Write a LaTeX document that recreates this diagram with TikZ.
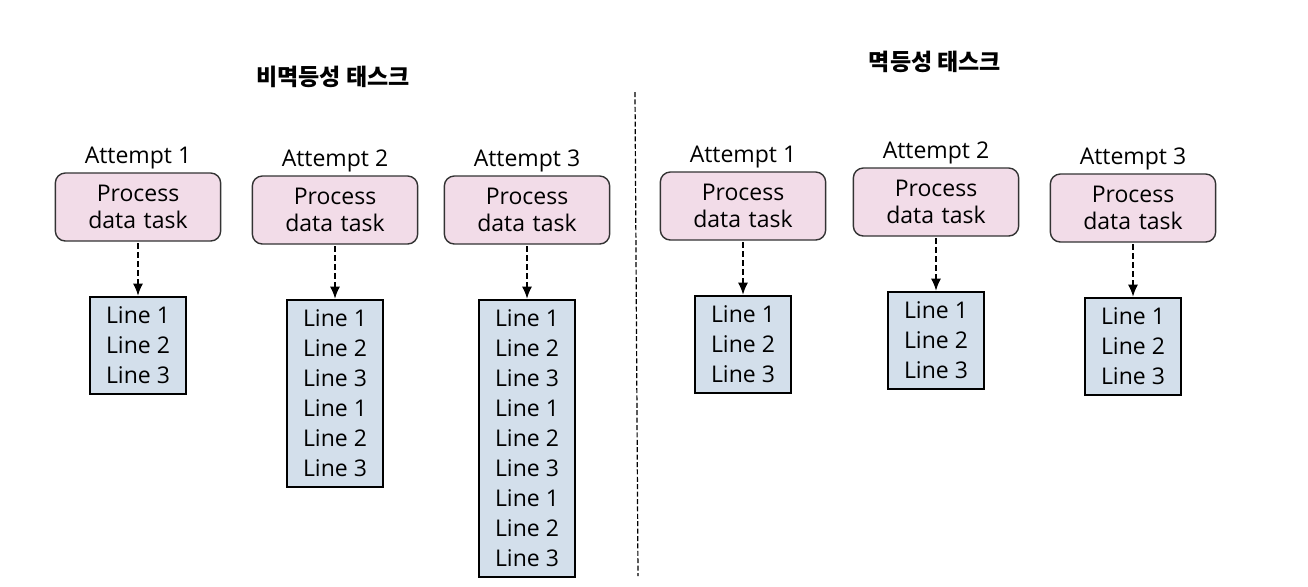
\documentclass[tikz,border=0pt]{standalone}
\usepackage{fontspec}
\setmainfont{Open Sans}
\newfontfamily\krfont{Noto Sans CJK KR}
\usetikzlibrary{arrows.meta,
                positioning}
\definecolor{procpink}{RGB}{242,220,232}
\definecolor{lineblue}{RGB}{211,223,235}
\tikzset{
	%Define standard arrow tip
	>={Latex[length=6pt,width=5pt]},
	%Define style for process boxes
	proc/.style={
	       rectangle,
	       rounded corners=5pt,
	       draw=black!80, line width=0.7pt,
	       fill=procpink,
	       text width=76pt,
	       minimum height=34pt,
	       align=center,
	       font=\fontsize{11.5}{13.5}\selectfont},
	%Define style for output boxes
	lines/.style={
	       rectangle,
	       draw=black, line width=1pt,
	       fill=lineblue,
	       minimum width=48pt,
	       inner ysep=5pt,
	       align=center,
	       font=\fontsize{11.5}{15}\selectfont},
	attempt/.style={
	       inner sep=0pt,
	       font=\fontsize{11.5}{13}\selectfont},
	title/.style={
	       inner sep=0pt,
	       font=\krfont\bfseries\fontsize{11.5}{13}\selectfont},
	% Define arrow style
	pil/.style={
	       ->,
	       line width=0.8pt,
	       dash pattern=on 3pt off 1.5pt},
	sep/.style={
	       line width=0.6pt,
	       dash pattern=on 2.5pt off 1.2pt}
}
\newcommand{\threelines}{Line 1\\Line 2\\Line 3}

\begin{document}
\begin{tikzpicture}[x=0.5pt, y=-0.5pt]
		\useasboundingbox (0,0) rectangle (1308,586);
		% non-idempotent task
		\node[title](title_l) at (333,77){비멱등성 태스크};
		\node[proc](proc_l1) at (138,207){Process\\data task};
		\node[attempt, above=1.5pt of proc_l1](att_l1){Attempt 1};
		\node[lines, below=27pt of proc_l1](lines_l1){\threelines}
		edge[pil, <-](proc_l1);
		\node[proc](proc_l2) at (335,210){Process\\data task};
		\node[attempt, above=1.5pt of proc_l2](att_l2){Attempt 2};
		\node[lines, below=27pt of proc_l2](lines_l2){\threelines\\\threelines}
		edge[pil, <-](proc_l2);
		\node[proc](proc_l3) at (527,210){Process\\data task};
		\node[attempt, above=1.5pt of proc_l3](att_l3){Attempt 3};
		\node[lines, below=27pt of proc_l3](lines_l3){\threelines\\\threelines\\\threelines}
		edge[pil, <-](proc_l3);
		% separator
		\coordinate (sep_top) at (635,92);
		\coordinate (sep_bot) at (638,576);
		\draw[sep] (sep_top) -- (sep_bot);
		% idempotent task
		\node[title](title_r) at (935,62){멱등성 태스크};
		\node[proc](proc_r1) at (743,206){Process\\data task};
		\node[attempt, above=1.5pt of proc_r1](att_r1){Attempt 1};
		\node[lines, below=27pt of proc_r1](lines_r1){\threelines}
		edge[pil, <-](proc_r1);
		\node[proc](proc_r2) at (936,202){Process\\data task};
		\node[attempt, above=1.5pt of proc_r2](att_r2){Attempt 2};
		\node[lines, below=27pt of proc_r2](lines_r2){\threelines}
		edge[pil, <-](proc_r2);
		\node[proc](proc_r3) at (1133,208){Process\\data task};
		\node[attempt, above=1.5pt of proc_r3](att_r3){Attempt 3};
		\node[lines, below=27pt of proc_r3](lines_r3){\threelines}
		edge[pil, <-](proc_r3);
	\end{tikzpicture}
\end{document}
